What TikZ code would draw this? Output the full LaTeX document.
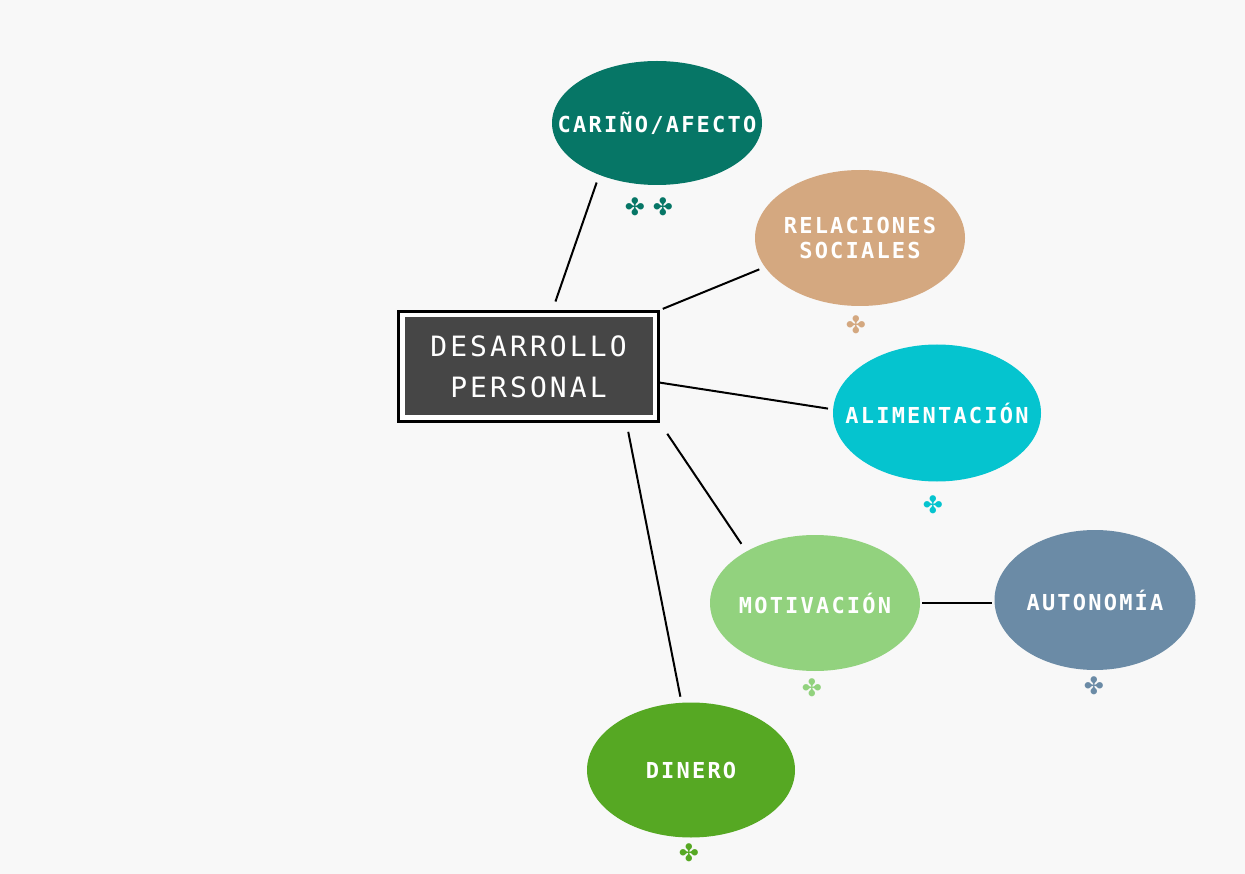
\documentclass[tikz,border=0pt]{standalone}
\usepackage{fontspec}
\usetikzlibrary{shapes.geometric,calc}
\newfontfamily\boxfont[LetterSpace=11]{DejaVu Sans Mono}
\newfontfamily\lblfont[LetterSpace=10]{DejaVu Sans Mono}
\newfontfamily\symfont{DejaVu Sans}
\definecolor{bgc}{HTML}{F8F8F8}
\definecolor{cari}{HTML}{067666}
\definecolor{rel}{HTML}{D4A880}
\definecolor{alim}{HTML}{05C4CF}
\definecolor{motiv}{HTML}{92D27E}
\definecolor{auto}{HTML}{6B8BA6}
\definecolor{din}{HTML}{56A823}
\definecolor{boxc}{HTML}{464646}
\tikzset{
  bub/.style={ellipse, inner sep=0pt, minimum width=210pt, minimum height=135pt},
  lbl/.style={inner sep=0pt, text=white, align=center, font=\lblfont\bfseries\fontsize{22}{25}\selectfont},
  flw/.style={inner sep=0pt, font=\symfont\fontsize{24}{24}\selectfont},
  conn/.style={draw=black, line width=2pt}
}
\begin{document}
\begin{tikzpicture}[x=1pt,y=-1pt]
\fill[bgc] (0,0) rectangle (1245,874);
\useasboundingbox (0,0) rectangle (1245,874);

% central box
\node[draw=black, fill=white, line width=3pt, minimum width=260pt, minimum height=110pt, inner sep=0pt] (box) at (528.5,366.5) {};
\node[fill=boxc, minimum width=248pt, minimum height=98pt, inner sep=0pt, text=white, align=center,
  font=\boxfont\fontsize{28}{41}\selectfont] (boxin) at (box.center) {DESARROLLO\\PERSONAL};

% bubbles
\node[bub, fill=cari, minimum height=124pt, label={[lbl]center:CARIÑO/AFECTO}] (cari) at (657,123) {};
\node[bub, fill=rel, minimum height=136pt, label={[lbl]center:RELACIONES\\SOCIALES}] (rel) at (860,238) {};
\node[bub, fill=alim, minimum width=208pt, minimum height=137pt, label={[lbl]center:ALIMENTACIÓN}] (alim) at (937,413) {};
\node[bub, fill=motiv, minimum height=136pt, label={[lbl]center:MOTIVACIÓN}] (motiv) at (815,603) {};
\node[bub, fill=auto, minimum width=201pt, minimum height=140pt, label={[lbl]center:AUTONOMÍA}] (auto) at (1095,600) {};
\node[bub, fill=din, minimum width=208pt, minimum height=135pt, label={[lbl]center:DINERO}] (din) at (691,770) {};

% flowers
\node[flw, text=cari] (f1) at (635,207) {✤};
\node[flw, text=cari] (f2) at (663,207) {✤};
\node[flw, text=rel] (f3) at (856,325) {✤};
\node[flw, text=alim] (f4) at (933,505) {✤};
\node[flw, text=motiv] (f5) at (812,688) {✤};
\node[flw, text=auto] (f6) at (1094,686) {✤};
\node[flw, text=din] (f7) at (689,853) {✤};

% connectors
\draw[conn, shorten <=9pt, shorten >=8pt] ([xshift=24pt]box.north) -- (cari.222);
\draw[conn, shorten <=3pt, shorten >=6pt] (box.north east) -- (rel.197);
\draw[conn, shorten >=5pt] (box.-7.6) -- (alim.178);
\draw[conn, shorten <=13pt, shorten >=9pt] (box.south east) -- (motiv.143);
\draw[conn, shorten <=9pt, shorten >=6pt] ([xshift=98pt]box.south) -- (din.98.6);
\draw[conn, shorten <=2pt, shorten >=2pt] (motiv.east) -- (motiv.east -| auto.west);
\end{tikzpicture}
\end{document}
